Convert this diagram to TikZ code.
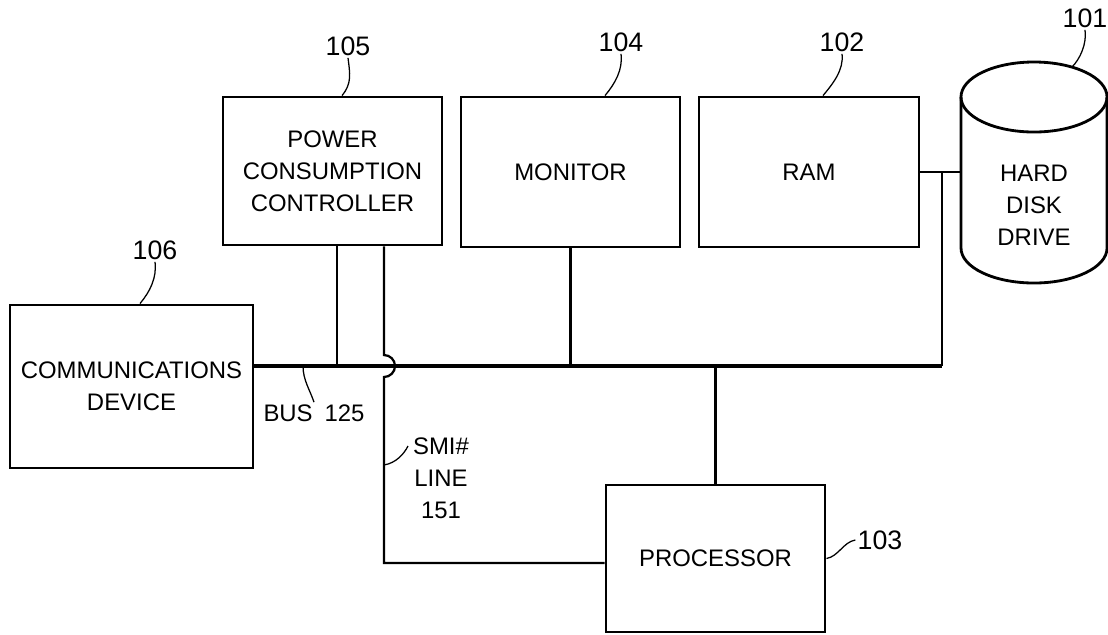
\documentclass[tikz,border=0pt]{standalone}
\usepackage{fontspec}
\setmainfont{Liberation Sans}
\usetikzlibrary{calc}

\begin{document}
\begin{tikzpicture}[x=0.025cm, y=-0.025cm,
  font=\fontsize{17}{22.7}\selectfont,
  blk/.style={draw, line width=2pt, align=center, inner sep=0pt},
  num/.style={inner sep=1.5pt, align=center},
  ref/.style={num, font=\fontsize{19}{22.7}\selectfont},
  wire/.style={line width=1.6pt},
  bus/.style={line width=2.2pt},
  lead/.style={line width=0.9pt}]
  \useasboundingbox (0,0) rectangle (1108,634);
  \node[blk, minimum width=5.475cm, minimum height=3.7cm] (pcc) at (332.5,171) {POWER\\CONSUMPTION\\CONTROLLER};
  \node[blk, minimum width=5.475cm, minimum height=3.75cm] (mon) at (570.5,172) {MONITOR};
  \node[blk, minimum width=5.5cm, minimum height=3.75cm] (ram) at (809,172) {RAM};
  \node[blk, minimum width=6.075cm, minimum height=4.075cm] (comm) at (131.5,386.5) {COMMUNICATIONS\\DEVICE};
  \node[blk, minimum width=5.475cm, minimum height=3.675cm] (proc) at (715.5,558.5) {PROCESSOR};
  \draw[line width=2pt] (961,97) -- (961,248) arc[start angle=180, end angle=360, x radius=1.825cm, y radius=0.875cm] -- (1107,97);
  \draw[line width=2pt] (1034,97) ellipse [x radius=1.825cm, y radius=0.875cm];
  \node[num] (hdd) at (1034,205) {HARD\\DISK\\DRIVE};
  \coordinate (hddL) at (961,172);
  \coordinate (hddT) at (1072,67);
  \coordinate (busR) at (942,366);
  \coordinate (tapP) at (337,366);
  \coordinate (smiC) at (384,563);
  \coordinate (busT) at (303,366);
  \coordinate (smiA) at (384,465);
  \coordinate (smiB) at (408,446);
  \draw[bus] (comm.east |- busR) -- (busR);
  \draw[wire] (ram.east) -- (hddL);
  \draw[wire] (busR |- hddL) -- (busR);
  \draw[wire] (pcc.south -| tapP) -- (tapP);
  \draw[wire] (mon.south) -- (mon.south |- busR);
  \draw[wire] (proc.north) -- (proc.north |- busR);
  \draw[wire] (pcc.south -| smiC) -- ($(smiC |- busR)+(0,-11)$) arc[start angle=90, end angle=-90, radius=0.275cm] -- (smiC) -- (proc.west |- smiC);
  \node[ref] (n105) at (348,46) {105};
  \node[ref] (n104) at (621,42) {104};
  \node[ref] (n102) at (842,42) {102};
  \node[ref] (n101) at (1085,18) {101};
  \node[ref] (n106) at (155,250) {106};
  \node[ref] (n103) at (880,540) {103};
  \node[num] (nbus) at (314,413) {BUS\enspace125};
  \node[num] (nsmi) at (441,478) {SMI\#\\LINE\\151};
  \draw[lead] (n105.south) .. controls +(2,16) and +(10,-12) .. ($(pcc.north)+(9.5,0)$);
  \draw[lead] (n104.south) .. controls +(2,16) and +(10,-12) .. ($(mon.north)+(34.5,0)$);
  \draw[lead] (n102.south) .. controls +(2,16) and +(10,-12) .. ($(ram.north)+(14,0)$);
  \draw[lead] (n101.south) .. controls +(2,14) and +(8,-8) .. (hddT);
  \draw[lead] (n106.south) .. controls +(2,16) and +(10,-12) .. ($(comm.north)+(8.5,0)$);
  \draw[lead] (busT) .. controls +(0,14) and +(-4,-12) .. (nbus.north);
  \draw[lead] (smiA) .. controls +(12,-2) and +(-4,8) .. (smiB);
  \draw[lead] (proc.east) .. controls +(12,-2) and +(-12,2) .. (n103.west);
\end{tikzpicture}
\end{document}
